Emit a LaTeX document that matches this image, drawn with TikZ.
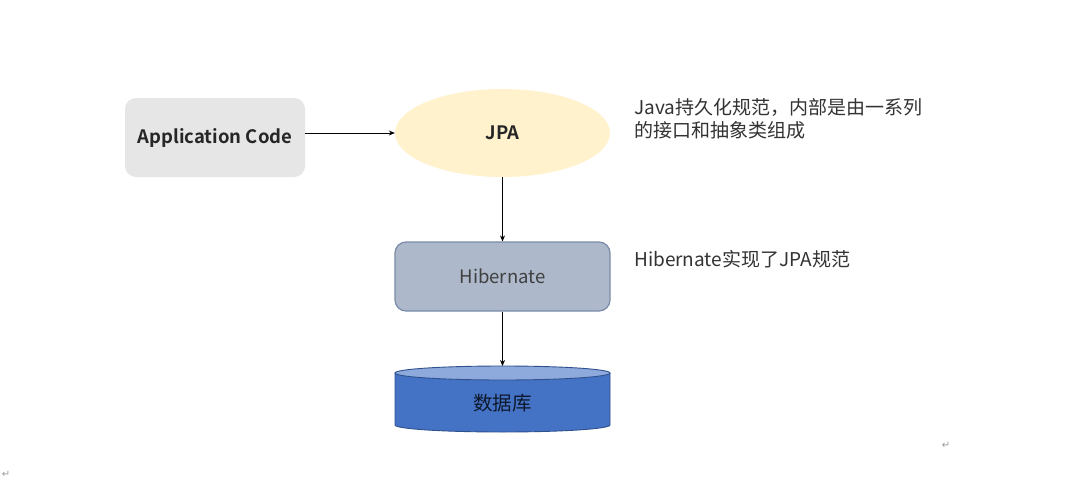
\documentclass[tikz,border=0pt]{standalone}
\usepackage{fontspec}
\setmainfont{Noto Sans CJK SC}[BoldFont={Noto Sans CJK SC Bold}]
\newfontfamily\symfont{DejaVu Sans}
\usetikzlibrary{shapes.geometric,arrows.meta}
\definecolor{appgray}{HTML}{E7E6E6}
\definecolor{jpayellow}{HTML}{FFF2CC}
\definecolor{hibfill}{HTML}{ADB9CA}
\definecolor{hibline}{HTML}{7A8BA8}
\definecolor{dbfill}{HTML}{4472C4}
\definecolor{dbtop}{HTML}{8EA9DB}
\definecolor{dbline}{HTML}{2F528F}
\definecolor{txt}{HTML}{333333}
\definecolor{mark}{HTML}{9A9A9A}
\tikzset{
  conn/.style={draw=black, line width=0.8pt, -{Stealth[length=6pt,width=5pt]}},
  note/.style={anchor=north west, inner sep=0pt, font=\fontsize{19}{23}\selectfont, text=txt, align=left},
  parmark/.style={font=\symfont\fontsize{10}{10}\selectfont, text=mark, inner sep=0pt}
}
\begin{document}
\begin{tikzpicture}[x=1pt,y=-1pt]
\useasboundingbox (0,0) rectangle (1083,487);
\fill[white] (0,0) rectangle (1083,487);
% Application Code
\node[fill=appgray, rounded corners=11pt, minimum width=180pt, minimum height=79pt,
      inner sep=0pt, font=\bfseries\fontsize{18.5}{20}\selectfont, text=black!85]
  (app) at (215,137.5) {Application Code};
% JPA
\node[ellipse, fill=jpayellow, minimum width=215pt, minimum height=88pt, inner sep=0pt,
      font=\bfseries\fontsize{18.5}{20}\selectfont, text=black!85]
  (jpa) at (502.5,133) {JPA};
% Hibernate
\node[fill=hibfill, draw=hibline, line width=1.2pt, rounded corners=11pt,
      minimum width=215pt, minimum height=69pt, inner sep=0pt,
      font=\fontsize{18.5}{20}\selectfont, text=black!75]
  (hib) at (502.5,276.5) {Hibernate};
% Database cylinder
\coordinate (dbtopc) at (502.5,373);
\fill[dbfill] (395,373) -- (395,425) arc[start angle=180, end angle=0, x radius=107.5, y radius=7] -- (610,373) -- cycle;
\draw[dbline, line width=0.9pt] (395,373) -- (395,425) arc[start angle=180, end angle=0, x radius=107.5, y radius=7] -- (610,373);
\draw[dbline, line width=0.9pt, fill=dbtop] (dbtopc) ellipse[x radius=107.5, y radius=7];
\node[font=\fontsize{19.5}{20}\selectfont, text=black!70!dbline, inner sep=0pt] (db) at (502.5,403) {数据库};
\coordinate (dbin) at (502.5,366);
% connectors
\draw[conn] (app.east |- jpa.west) -- (jpa.west);
\draw[conn] (jpa.south) -- (hib.north);
\draw[conn] (hib.south) -- (dbin);
% notes
\node[note] (n1) at (634,98) {Java持久化规范，内部是由一系列\\的接口和抽象类组成};
\node[note] (n2) at (634,250) {Hibernate实现了JPA规范};
% paragraph marks
\node[parmark] (p1) at (946,445) {↵};
\node[parmark] (p2) at (6,474) {↵};
\end{tikzpicture}
\end{document}
